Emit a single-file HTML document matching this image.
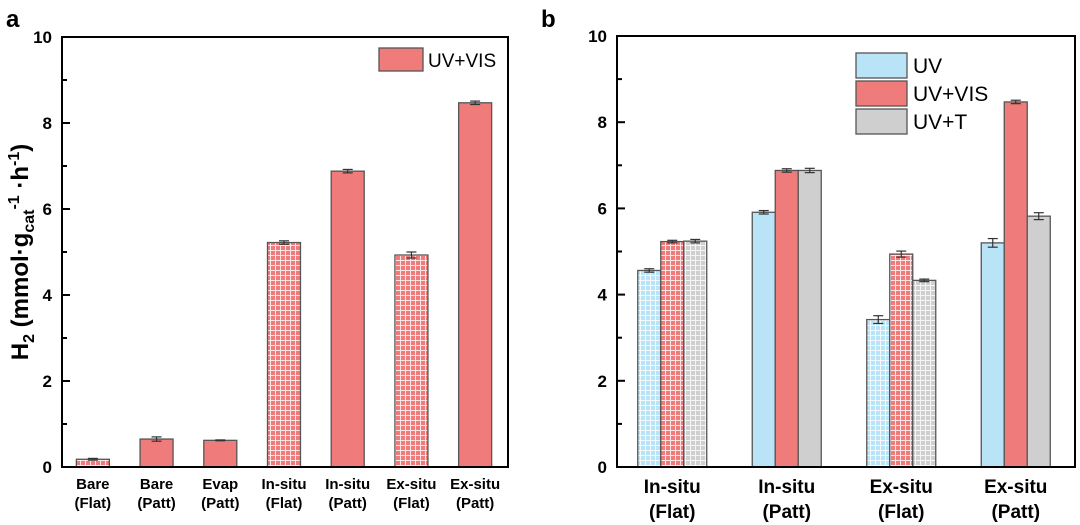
<!DOCTYPE html>
<html><head><meta charset="utf-8"><style>
body{margin:0;background:#fff;}
svg{display:block;font-family:"Liberation Sans",Arial,sans-serif;}
</style></head><body>
<svg id="chart" width="1080" height="525" viewBox="0 0 1080 525" xmlns="http://www.w3.org/2000/svg">
<defs>
<pattern id="gridRed" width="5" height="5" patternUnits="userSpaceOnUse"><rect width="5" height="5" fill="#f07b7b"/><path d="M0 0.5H5M0.5 0V5" stroke="#fde5e5" stroke-width="1"/></pattern>
<pattern id="gridBlue" width="5" height="5" patternUnits="userSpaceOnUse"><rect width="5" height="5" fill="#b9e3f6"/><path d="M0 0.5H5M0.5 0V5" stroke="#f2fafe" stroke-width="1"/></pattern>
<pattern id="gridGray" width="5" height="5" patternUnits="userSpaceOnUse"><rect width="5" height="5" fill="#cfcfcf"/><path d="M0 0.5H5M0.5 0V5" stroke="#f5f5f5" stroke-width="1"/></pattern>
</defs>
<text x="6" y="27" font-size="24" font-weight="bold">a</text>
<text x="541" y="27" font-size="24" font-weight="bold">b</text>
<text transform="translate(28,252) rotate(-90)" text-anchor="middle" font-size="24" font-weight="bold">H<tspan font-size="16" dy="6">2</tspan><tspan dy="-6"> (mmol·g</tspan><tspan font-size="16" dy="6">cat</tspan><tspan font-size="16" dy="-15">-1</tspan><tspan dy="9"> ·h</tspan><tspan font-size="16" dy="-9">-1</tspan><tspan dy="9">)</tspan></text>
<g id="left"></g><g id="right"></g>
</svg>
<script>
const leftCats=[["Bare","(Flat)"],["Bare","(Patt)"],["Evap","(Patt)"],["In-situ","(Flat)"],["In-situ","(Patt)"],["Ex-situ","(Flat)"],["Ex-situ","(Patt)"]];
const leftVals=[0.18,0.65,0.62,5.22,6.88,4.93,8.47];
const leftErr=[0.02,0.05,0.01,0.04,0.04,0.07,0.04];
const leftHatched=[true,false,false,true,false,true,false];
const rightCats=[["In-situ","(Flat)"],["In-situ","(Patt)"],["Ex-situ","(Flat)"],["Ex-situ","(Patt)"]];
const uvVals=[4.56,5.91,3.42,5.20];
const uvErr=[0.04,0.04,0.09,0.10];
const visVals=[5.23,6.88,4.94,8.47];
const visErr=[0.03,0.04,0.07,0.04];
const tVals=[5.24,6.88,4.33,5.82];
const tErr=[0.04,0.05,0.03,0.08];
const rightHatched=[true,false,true,false];
const yTicks=[0,2,4,6,8,10];
const NS="http://www.w3.org/2000/svg";
function mk(parent,tag,attrs,text){const e=document.createElementNS(NS,tag);for(const k in attrs)e.setAttribute(k,attrs[k]);if(text!==undefined)e.textContent=text;parent.appendChild(e);return e;}
function axes(g,x0,x1,y0,y1,labelFs){
  const ys=v=>y0-(v/10)*(y0-y1);
  for(let v=1;v<10;v+=2){const t=mk(g,'line',{x1:x0,x2:x0+5,y1:ys(v),y2:ys(v),stroke:'#000','stroke-width':2});
    }
  yTicks.forEach(v=>{const t=mk(g,'line',{x1:x0,x2:x0+8,y1:ys(v),y2:ys(v),stroke:'#000','stroke-width':2});
    
    const l=mk(g,'text',{x:x0-10,y:ys(v)+6,'text-anchor':'end','font-size':labelFs,'font-weight':'bold'},String(v));
    });
  return ys;
}
function bar(g,x,w,v,e,fill,ys,name){
  const r=mk(g,'rect',{x:x,y:ys(v),width:w,height:ys(0)-ys(v),fill:fill,stroke:'#555','stroke-width':1.3});
  
  const cx=x+w/2;const eg=mk(g,'g',{stroke:'#333','stroke-width':1.2});
  
  mk(eg,'line',{x1:cx,x2:cx,y1:ys(v+e),y2:ys(v-e)});
  mk(eg,'line',{x1:cx-5,x2:cx+5,y1:ys(v+e),y2:ys(v+e)});
  mk(eg,'line',{x1:cx-5,x2:cx+5,y1:ys(v-e),y2:ys(v-e)});
}
(function(){
  const g=document.getElementById('left');
  const x0=62,x1=508,y0=467,y1=37;
  const ys=axes(g,x0,x1,y0,y1,17);
  const step=(x1-x0)/leftVals.length;const w=33;
  leftVals.forEach((v,i)=>{const cx=x0+step*(i+0.5)-1;
    bar(g,cx-w/2,w,v,leftErr[i],leftHatched[i]?'url(#gridRed)':'#f07b7b',ys,'bar-uv-vis-'+i);
    leftCats[i].forEach((s,j)=>{const t=mk(g,'text',{x:cx,y:489+j*19,'text-anchor':'middle','font-size':15,'font-weight':'bold'},s);
      });});
  const fr=mk(g,'rect',{x:x0,y:y1,width:x1-x0,height:y0-y1,fill:'none',stroke:'#000','stroke-width':2});
  
  const lg=mk(g,'g',{});
  mk(lg,'rect',{x:379,y:48,width:44,height:23,fill:'#f07b7b',stroke:'#555','stroke-width':1.3});
  mk(lg,'text',{x:428,y:67,'font-size':19},'UV+VIS');
})();
(function(){
  const g=document.getElementById('right');
  const x0=617,x1=1075,y0=467,y1=36;
  const ys=axes(g,x0,x1,y0,y1,17);
  const step=(x1-x0)/uvVals.length;const w=23;
  const series=[[uvVals,uvErr,'#b9e3f6','url(#gridBlue)','uv'],[visVals,visErr,'#f07b7b','url(#gridRed)','uv-vis'],[tVals,tErr,'#cfcfcf','url(#gridGray)','uv-t']];
  uvVals.forEach((_,i)=>{const cx=x0+step*(i+0.5)-2;
    series.forEach((s,k)=>{bar(g,cx-1.5*w+k*w,w,s[0][i],s[1][i],rightHatched[i]?s[3]:s[2],ys,'bar-'+s[4]+'-'+i);});
    rightCats[i].forEach((s,j)=>{const t=mk(g,'text',{x:cx,y:493+j*25,'text-anchor':'middle','font-size':19,'font-weight':'bold'},s);
      });});
  const fr=mk(g,'rect',{x:x0,y:y1,width:x1-x0,height:y0-y1,fill:'none',stroke:'#000','stroke-width':2});
  
  const names=['UV','UV+VIS','UV+T'];
  series.forEach((s,k)=>{const lg=mk(g,'g',{});
    mk(lg,'rect',{x:856,y:53+k*28,width:51,height:25,fill:s[2],stroke:'#555','stroke-width':1.3});
    mk(lg,'text',{x:913,y:73+k*28,'font-size':21},names[k]);});
})();
</script>
</body></html>
